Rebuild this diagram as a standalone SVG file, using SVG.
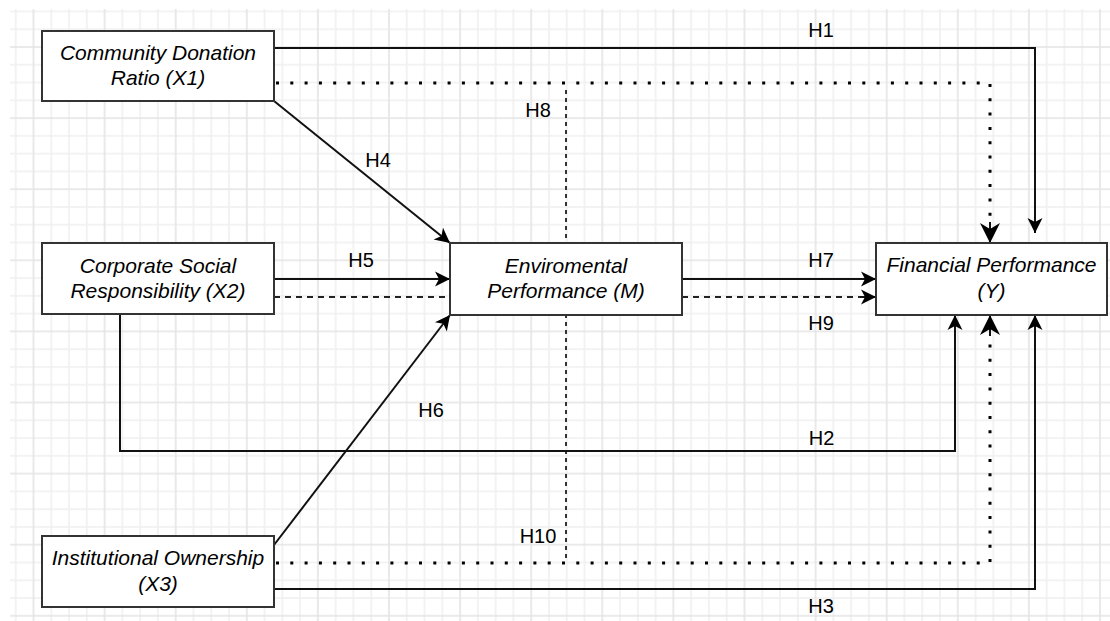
<svg xmlns="http://www.w3.org/2000/svg" width="1110" height="621" viewBox="0 0 1110 621">
<style>
.node rect{fill:#fff;stroke:#333;stroke-width:2}
.node text{font-family:"Liberation Sans",Arial,sans-serif;font-size:21px;font-style:italic;fill:#000;text-anchor:middle}
.lbl{font-family:"Liberation Sans",Arial,sans-serif;font-size:20px;fill:#000;text-anchor:middle}
.c{fill:none;stroke:#111;stroke-width:2}
.dot{fill:none;stroke:#000;stroke-width:3;stroke-dasharray:3 11.3}
.dash{fill:none;stroke:#222;stroke-width:2;stroke-dasharray:6 5}
.vdash{fill:none;stroke:#333;stroke-width:2;stroke-dasharray:4 4}
</style>
<defs>
<pattern id="grid" patternUnits="userSpaceOnUse" x="33.5" y="47" width="71.1" height="71.1">
<path d="M17.775 0V71.1M35.55 0V71.1M53.325 0V71.1M0 17.775H71.1M0 35.55H71.1M0 53.325H71.1" stroke="#f0f0f0" stroke-width="1.6" fill="none"/>
<path d="M0 0V71.1M71.1 0V71.1M0 0H71.1M0 71.1H71.1" stroke="#e4e4e4" stroke-width="1.6" fill="none"/>
</pattern>
<marker id="arr" markerUnits="userSpaceOnUse" markerWidth="20" markerHeight="20" refX="16" refY="10" orient="auto" viewBox="0 0 20 20">
<path d="M16 10L1 2.5L5 10L1 17.5Z" fill="#000"/>
</marker>
<marker id="big" markerUnits="userSpaceOnUse" markerWidth="24" markerHeight="24" refX="21" refY="12" orient="auto" viewBox="0 0 24 24">
<path d="M21 12L1 2L7 12L1 22Z" fill="#000"/>
</marker>
</defs>
<rect width="1110" height="621" fill="#fff"/>
<rect x="10" y="9" width="1100" height="612" fill="url(#grid)"/>
<g id="connectors">
<path class="c" d="M274 48H1035V233" marker-end="url(#arr)"/>
<path class="dot" d="M276 83H990V222"/>
<path d="M990 222V243" class="c" stroke="none" marker-end="url(#big)"/>
<path class="vdash" d="M566 90V562"/>
<path class="c" d="M274 101L450 243" marker-end="url(#arr)"/>
<path class="c" d="M274 279H450" marker-end="url(#arr)"/>
<path class="dash" d="M274 297H450"/>
<path class="c" d="M274 545L450 315" marker-end="url(#arr)"/>
<path class="c" d="M682 279H876" marker-end="url(#arr)"/>
<path class="dash" d="M682 297H862"/>
<path class="c" stroke="none" d="M860 297H876" marker-end="url(#arr)"/>
<path class="c" d="M120 314V451H955V315" marker-end="url(#arr)"/>
<path class="dot" d="M276 563H990V336"/>
<path class="c" stroke="none" d="M990 336V315" marker-end="url(#big)"/>
<path class="c" d="M274 589H1035V315" marker-end="url(#arr)"/>
<text class="lbl" x="821" y="37">H1</text>
<text class="lbl" x="378" y="167">H4</text>
<text class="lbl" x="538" y="117">H8</text>
<text class="lbl" x="361" y="267">H5</text>
<text class="lbl" x="821" y="267">H7</text>
<text class="lbl" x="821" y="330">H9</text>
<text class="lbl" x="431" y="417">H6</text>
<text class="lbl" x="821.5" y="445">H2</text>
<text class="lbl" x="538" y="543">H10</text>
<text class="lbl" x="821" y="613">H3</text>
</g>
<g id="x1" class="node"><rect x="42" y="31" width="232" height="70"/><text x="158" y="60">Community Donation</text><text x="158" y="85">Ratio (X1)</text></g>
<g id="x2" class="node"><rect x="42" y="243" width="232" height="71"/><text x="158" y="273">Corporate Social</text><text x="158" y="298">Responsibility (X2)</text></g>
<g id="m" class="node"><rect x="450" y="243" width="232" height="72"/><text x="566" y="273">Enviromental</text><text x="566" y="298">Performance (M)</text></g>
<g id="y" class="node"><rect x="876" y="243" width="231" height="72"/><text x="991.5" y="272">Financial Performance</text><text x="991.5" y="298">(Y)</text></g>
<g id="x3" class="node"><rect x="42" y="536" width="232" height="71"/><text x="158" y="565">Institutional Ownership</text><text x="158" y="591">(X3)</text></g>
</svg>
